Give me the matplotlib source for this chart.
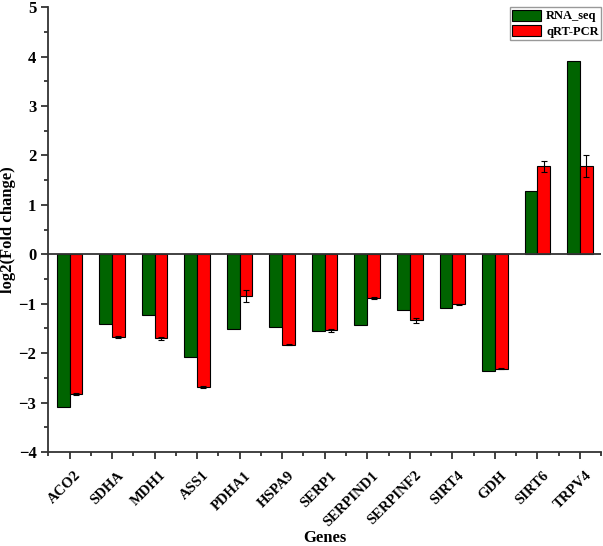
import numpy as np
import matplotlib.pyplot as plt
from matplotlib.ticker import MultipleLocator
from matplotlib.transforms import ScaledTranslation

genes = ['ACO2', 'SDHA', 'MDH1', 'ASS1', 'PDHA1', 'HSPA9', 'SERP1',
         'SERPIND1', 'SERPINF2', 'SIRT4', 'GDH', 'SIRT6', 'TRPV4']
rna_seq = [-3.08, -1.40, -1.22, -2.08, -1.52, -1.48, -1.56,
           -1.42, -1.13, -1.08, -2.35, 1.28, 3.91]
qrt_pcr = [-2.83, -1.68, -1.70, -2.69, -0.85, -1.83, -1.54,
           -0.88, -1.33, -1.01, -2.31, 1.78, 1.78]
qrt_err = [0.02, 0.02, 0.03, 0.02, 0.12, 0.01, 0.03,
           0.02, 0.05, 0.01, 0.01, 0.11, 0.22]

plt.rcParams['font.family'] = 'Liberation Serif'
plt.rcParams['font.weight'] = 'bold'

fig = plt.figure(figsize=(6.03, 5.46), dpi=100)
ax = fig.add_axes([0.08, 0.172, 0.917, 0.815])

x = np.arange(len(genes))
w = 0.3
ax.bar(x - w / 2, rna_seq, w, color='#006400', edgecolor='black', linewidth=0.8, label='RNA_seq')
ax.bar(x + w / 2, qrt_pcr, w, color='#ff0000', edgecolor='black', linewidth=0.8, label='qRT-PCR')
ax.errorbar(x + w / 2, qrt_pcr, yerr=qrt_err, fmt='none', ecolor='black',
            elinewidth=0.8, capsize=2.2, capthick=0.8)

ax.axhline(0, color='#333333', linewidth=1.3)

ax.set_xlim(-0.5, 12.5)
ax.set_ylim(-4, 5)
ax.set_xticks(x)
ax.set_xticklabels(genes, rotation=45, ha='right', rotation_mode='anchor', fontsize=10.5)
ax.xaxis.set_minor_locator(MultipleLocator(0.5))
ax.yaxis.set_major_locator(MultipleLocator(1))
ax.yaxis.set_minor_locator(MultipleLocator(0.5))
ax.tick_params(which='both', direction='out', width=1.3, color='#333333')
ax.tick_params(axis='y', labelsize=12)
ax.tick_params(which='major', length=5)
ax.tick_params(which='minor', length=3)

# shift rotated labels a little right/down, as in the original
offset = ScaledTranslation(5 / 100, -5 / 100, fig.dpi_scale_trans)
for lbl in ax.get_xticklabels():
    lbl.set_transform(lbl.get_transform() + offset)

for side in ['top', 'right']:
    ax.spines[side].set_visible(False)
for side in ['left', 'bottom']:
    ax.spines[side].set_linewidth(1.3)
    ax.spines[side].set_color('#333333')

ax.set_xlabel('Genes', fontsize=12, fontweight='bold')
ax.set_ylabel('log2(Fold change)', fontsize=12, fontweight='bold')
ax.xaxis.set_label_coords(0.5, -0.175)
ax.yaxis.set_label_coords(-0.058, 0.5)

leg = ax.legend(loc='upper right', fontsize=9, fancybox=False, edgecolor='gray',
                handlelength=2.3, handleheight=1.0, borderaxespad=0.0,
                borderpad=0.2, labelspacing=0.2, handletextpad=0.4)
leg.get_frame().set_linewidth(1.0)

fig.savefig('out.png', dpi=100)
